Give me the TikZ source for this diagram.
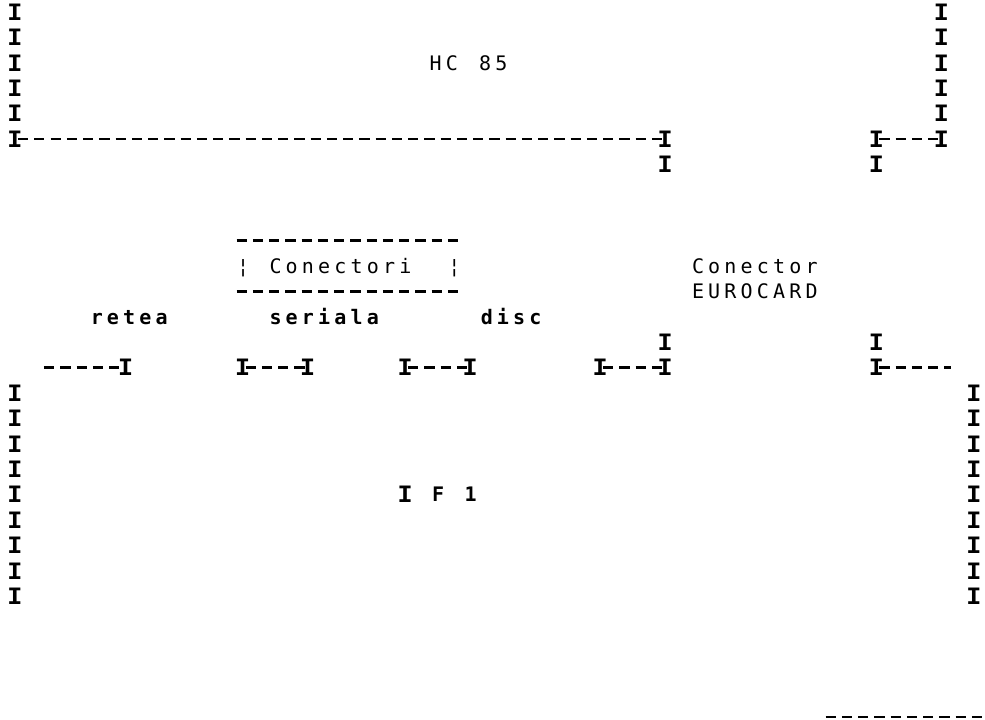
\documentclass[tikz,border=0pt]{standalone}
\usepackage{fontspec}
\usepackage{tikz}
\usetikzlibrary{positioning}
\newfontfamily\barfont{Liberation Mono}[BoldFont={Liberation Mono Bold}]
\newfontfamily\dotfont{DejaVu Sans Mono}[LetterSpace=21]

\tikzset{
  bar/.style={font=\barfont\bfseries\fontsize{25}{25}\selectfont,
    inner sep=0pt, text height=16.5pt, text depth=0pt},
  word/.style={font=\dotfont\fontsize{20}{20}\selectfont,
    inner sep=0pt, text height=14.5pt, text depth=0pt, anchor=west},
  heavy/.style={word, font=\dotfont\bfseries\fontsize{20}{20}\selectfont},
  wire/.style={line width=2.7pt, dash pattern=on 10.25pt off 6pt,
    shorten <=3pt, shorten >=3pt}
}

\begin{document}
\begin{tikzpicture}[x=16.25pt, y=-25.4pt]
\useasboundingbox (-0.923,-0.472) rectangle (59.692,27.835);
% HC 85 frame
\foreach \r in {0,...,5} {
  \node[bar] (l\r) at (0,\r) {I};
  \node[bar] (r\r) at (57,\r) {I};
}
\node[word] (hc) at (25.5,2) {HC};
\node[word] (hcn) at (28.55,2) {85};
\node[bar] (m5) at (40,5) {I};
\node[bar] (m6) at (40,6) {I};
\node[bar] (e5) at (53,5) {I};
\node[bar] (e6) at (53,6) {I};
\draw[wire] (l5.center) -- (m5.center);
\draw[wire] (e5.center) -- (r5.center);

% Connectori box
\node[word] (cl) at (13.65,10) {¦};
\node[word] (conn) at (15.65,10) {Conectori};
\node[word] (cr) at (26.65,10) {¦};
\coordinate (ctl) at (13.45,9);
\coordinate (ctr) at (27.55,9);
\coordinate (cbl) at (13.45,11);
\coordinate (cbr) at (27.55,11);
\draw[wire] (ctl) -- (ctr);
\draw[wire] (cbl) -- (cbr);

% Labels
\node[word] (euro1) at (41.65,10) {Conector};
\node[word] (euro2) at (41.65,11) {EUROCARD};
\node[heavy] (retea) at (4.65,12) {retea};
\node[heavy] (serial) at (15.65,12) {seriala};
\node[heavy] (disc) at (28.65,12) {disc};

% Plugs of IF 1
\node[bar] (d13) at (40,13) {I};
\node[bar] (e13) at (53,13) {I};
\coordinate (netend) at (1.6,14);
\node[bar] (net) at (6.8,14) {I};
\node[bar] (sa1) at (14,14) {I};
\node[bar] (sa2) at (18,14) {I};
\node[bar] (sb1) at (24,14) {I};
\node[bar] (sb2) at (28,14) {I};
\node[bar] (dk1) at (36,14) {I};
\node[bar] (dk2) at (40,14) {I};
\node[bar] (eu) at (53,14) {I};
\coordinate (euend) at (57.8,14);
\draw[wire] (netend) -- (net.center);
\draw[wire] (sa1.center) -- (sa2.center);
\draw[wire] (sb1.center) -- (sb2.center);
\draw[wire] (dk1.center) -- (dk2.center);
\draw[wire] (eu.center) -- (euend);

% IF 1 frame
\foreach \r in {15,...,23} {
  \node[bar] (bl\r) at (0,\r) {I};
  \node[bar] (br\r) at (59,\r) {I};
}
\node[bar] (ifi) at (24,19) {I};
\node[heavy] (iff) at (25.65,19) {F};
\node[heavy] (ifn) at (27.65,19) {1};
\coordinate (botl) at (49.7,27.75);
\coordinate (botr) at (60.5,27.75);
\draw[wire] (botl) -- (botr);
\end{tikzpicture}
\end{document}
